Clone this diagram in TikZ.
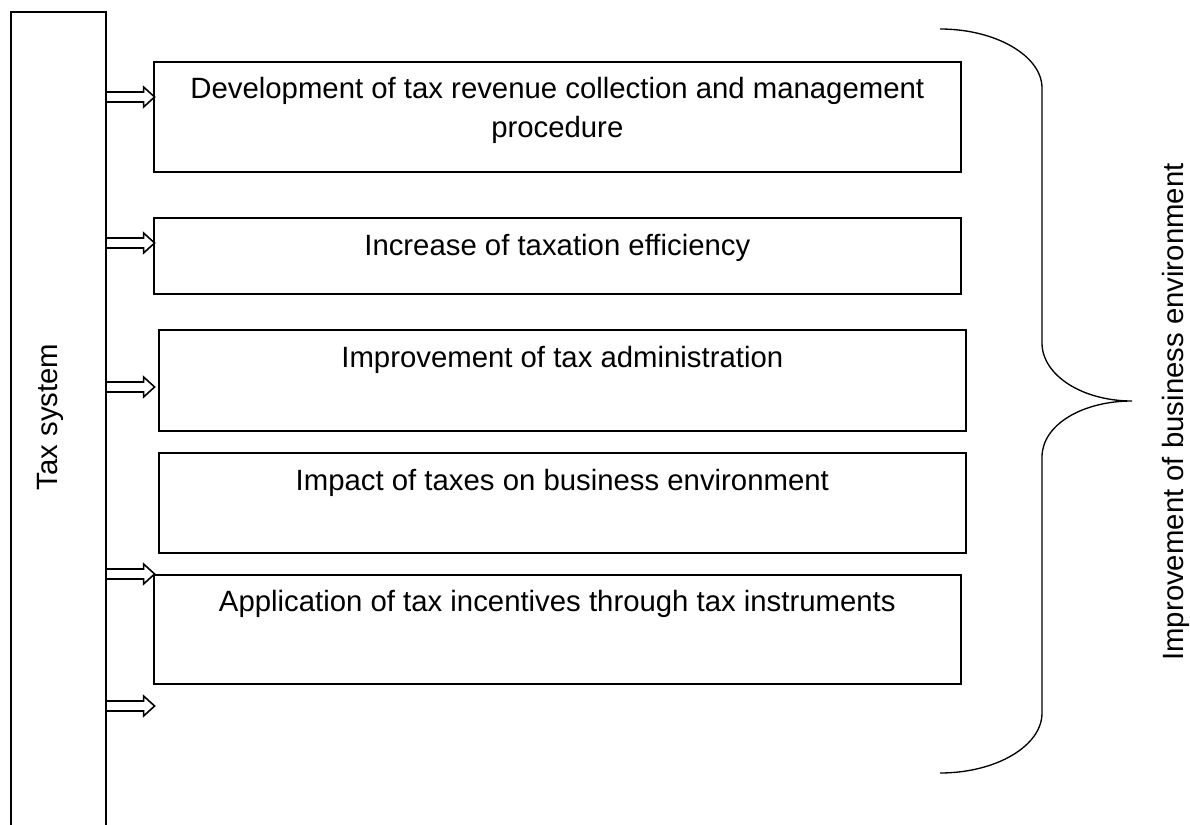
\documentclass[tikz,border=0pt]{standalone}
\usepackage{fontspec}
\setmainfont{Liberation Sans}
\usetikzlibrary{positioning}
\tikzstyle{block} = [rectangle, draw=black, line width=1.2pt, minimum width=605.25pt, anchor=north west, inner sep=0pt]
\tikzstyle{boxtext} = [font=\fontsize{22}{28.9}\selectfont, align=center, inner sep=0pt]
\tikzstyle{hollow} = [draw=black, line width=1.2pt, line join=miter]
\tikzstyle{brace} = [draw=black, line width=1pt]

\begin{document}
\begin{tikzpicture}[x=0.75pt, y=-0.75pt]
\useasboundingbox (0,0) rectangle (1190,825);

\node (taxsystem) [block, minimum width=71.25pt, minimum height=652pt] at (10,11) {};
\node (taxlabel) [boxtext, rotate=90, anchor=base] at (57,417) {Tax system};

\node (collection) [block, minimum height=82.5pt] at (153,61) {};
\node (efficiency) [block, minimum height=57pt] at (153,217) {};
\node (administration) [block, minimum height=75.75pt] at (158,329) {};
\node (impact) [block, minimum height=75pt] at (158,452) {};
\node (incentives) [block, minimum height=81.75pt] at (153,574) {};

\node (collectiontext) [boxtext, anchor=base] at (collection.north |- 0,137) {Development of tax revenue collection and management\\procedure};
\node (efficiencytext) [boxtext, anchor=base] at (efficiency.north |- 0,255) {Increase of taxation efficiency};
\node (administrationtext) [boxtext, anchor=base] at (administration.north |- 0,367) {Improvement of tax administration};
\node (impacttext) [boxtext, anchor=base] at (impact.north |- 0,490) {Impact of taxes on business environment};
\node (incentivestext) [boxtext, anchor=base] at (incentives.north |- 0,611) {Application of tax incentives through tax instruments};

% hollow arrows out of the tax system
\coordinate (out1) at (taxsystem.east |- 0,97);
\coordinate (out2) at (taxsystem.east |- 0,243);
\coordinate (out3) at (taxsystem.east |- 0,387);
\coordinate (out4) at (taxsystem.east |- 0,574);
\coordinate (out5) at (taxsystem.east |- 0,706);
\draw [hollow] (out1) ++(0,-5) -- ++(37,0) -- ++(0,-5) -- ++(11,10) -- ++(-11,10) -- ++(0,-5) -- ++(-37,0);
\draw [hollow] (out2) ++(0,-5) -- ++(37,0) -- ++(0,-5) -- ++(11,10) -- ++(-11,10) -- ++(0,-5) -- ++(-37,0);
\draw [hollow] (out3) ++(0,-5) -- ++(37,0) -- ++(0,-5) -- ++(11,10) -- ++(-11,10) -- ++(0,-5) -- ++(-37,0);
\draw [hollow] (out4) ++(0,-5) -- ++(37,0) -- ++(0,-5) -- ++(11,10) -- ++(-11,10) -- ++(0,-5) -- ++(-37,0);
\draw [hollow] (out5) ++(0,-5) -- ++(37,0) -- ++(0,-5) -- ++(11,10) -- ++(-11,10) -- ++(0,-5) -- ++(-37,0);

% curly brace on the right
\coordinate (bracetip) at (1132,401);
\draw [brace] (940,29) .. controls (996,29) and (1042,56) .. (1042,88) -- (1042,343)
  .. controls (1042,375) and (1082,401) .. (bracetip)
  .. controls (1082,401) and (1042,425) .. (1042,457) -- (1042,713)
  .. controls (1042,746) and (996,773) .. (940,773);

\node (outcome) [boxtext, rotate=90, anchor=base] at (1183,412) {Improvement of business environment};

\end{tikzpicture}
\end{document}
